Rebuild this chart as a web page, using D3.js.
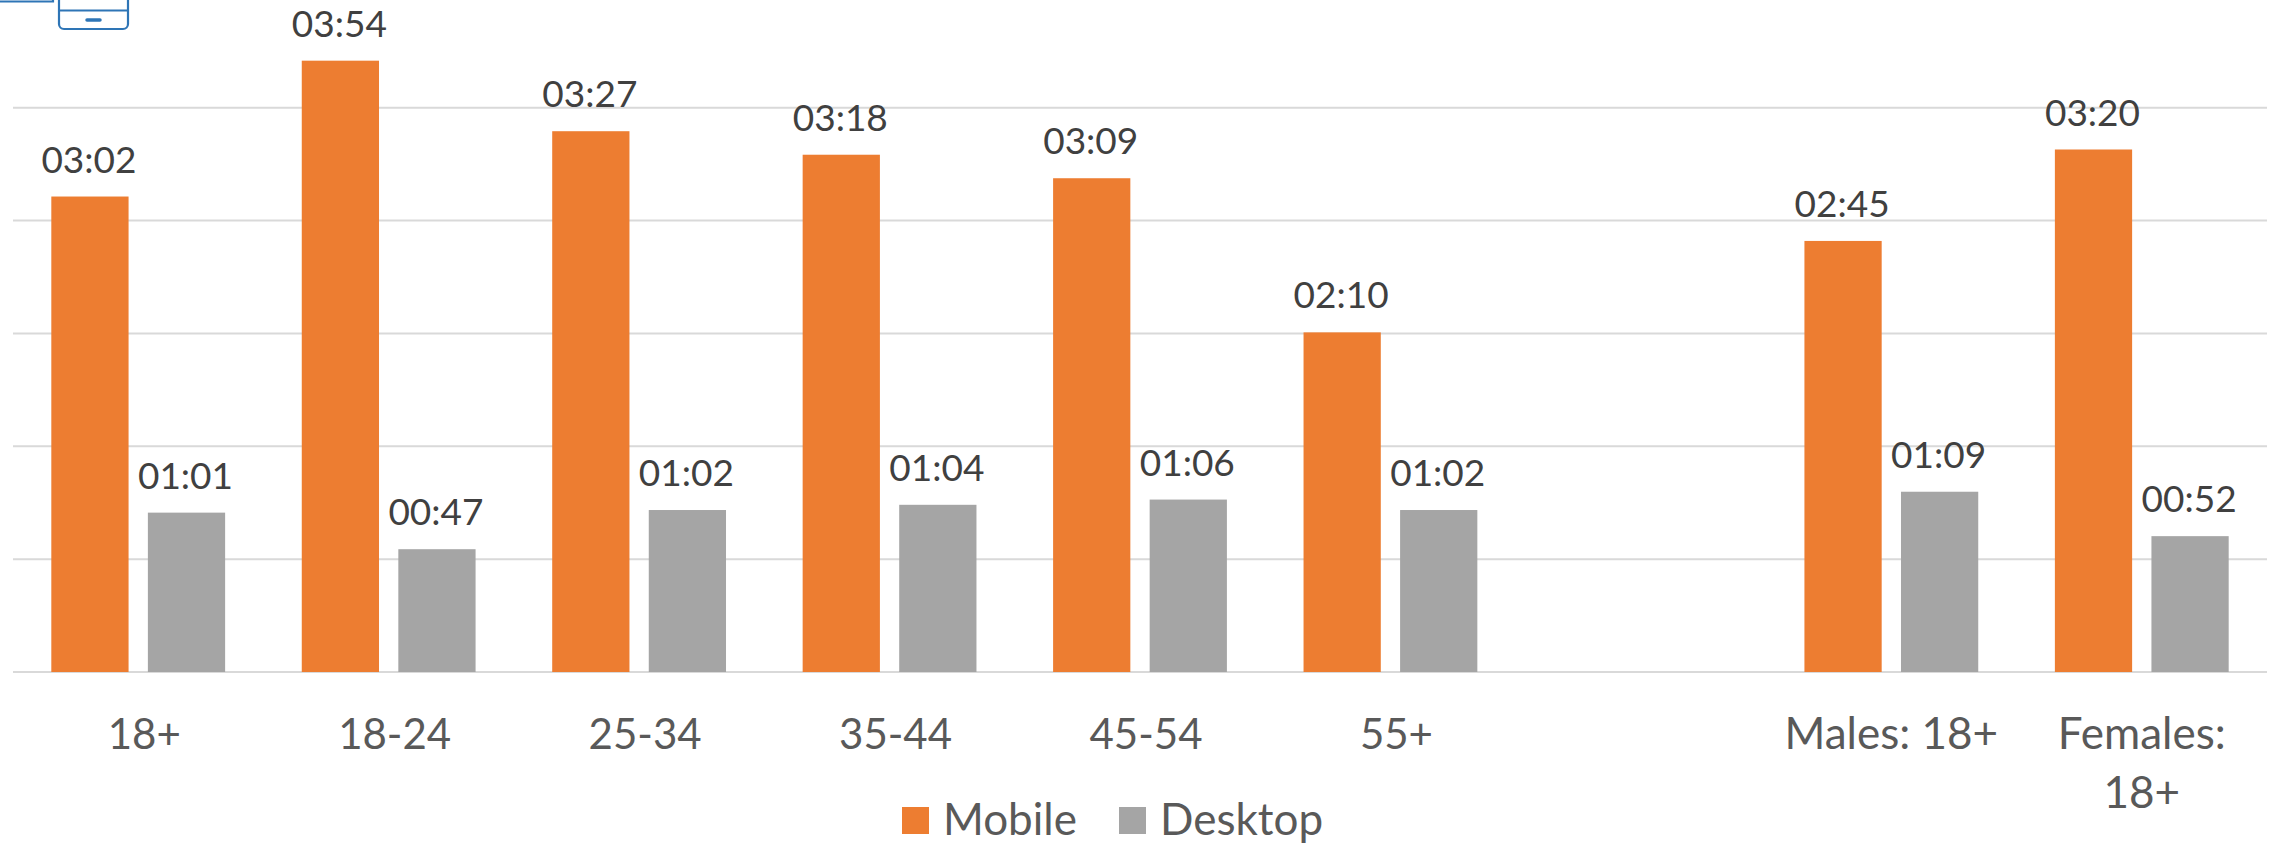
<!DOCTYPE html>
<html>
<head>
<meta charset="utf-8">
<script src="https://cdnjs.cloudflare.com/ajax/libs/d3/7.8.5/d3.min.js"></script>
<style>
  html, body { margin: 0; padding: 0; background: #fff; overflow: hidden; }
  text { font-family: Lato, "Open Sans", sans-serif; }
</style>
</head>
<body>
<script>
// slots on the x axis, the empty one makes the gap before the gender groups
const categories = ["18+", "18-24", "25-34", "35-44", "45-54", "55+", "", "Males: 18+", "Females: 18+"];
const seriesNames = ["Mobile", "Desktop"];
const seriesColors = ["#ED7D31", "#A5A5A5"];
// minutes:seconds per day
const mobile = ["03:02", "03:54", "03:27", "03:18", "03:09", "02:10", null, "02:45", "03:20"];
const desktop = ["01:01", "00:47", "01:02", "01:04", "01:06", "01:02", null, "01:09", "00:52"];
// gridlines sit every 0.0005 of a day = 43.2 seconds
const gridTicks = [0, 43.2, 86.4, 129.6, 172.8, 216];

const width = 2277, height = 844;
const margin = { top: 45, right: 10, bottom: 172, left: 13 };

const toSeconds = s => { const p = s.split(":"); return +p[0] * 60 + +p[1]; };

const svg = d3.select("body").append("svg")
    .attr("width", width)
    .attr("height", height);

const x = d3.scaleBand()
    .domain(d3.range(categories.length))
    .range([margin.left, width - margin.right])
    .paddingInner(0.306)
    .paddingOuter(0.153);

const xInner = d3.scaleBand()
    .domain(seriesNames)
    .range([0, x.bandwidth()])
    .paddingInner(0.2);

const y = d3.scaleLinear()
    .domain([0, 240])
    .range([height - margin.bottom, margin.top]);

// gridlines
svg.append("g")
    .selectAll("line")
    .data(gridTicks)
    .join("line")
    .attr("x1", margin.left)
    .attr("x2", width - margin.right)
    .attr("y1", d => y(d))
    .attr("y2", d => y(d))
    .attr("stroke", "#D9D9D9")
    .attr("stroke-width", 2);

// bars and value labels
[mobile, desktop].forEach(function(values, s) {
    const name = seriesNames[s];
    const g = svg.append("g");
    const rows = values.map((v, i) => ({ v: v, i: i })).filter(d => d.v !== null);

    g.selectAll("rect")
        .data(rows)
        .join("rect")
        .attr("x", d => x(d.i) + xInner(name))
        .attr("y", d => y(toSeconds(d.v)))
        .attr("width", xInner.bandwidth())
        .attr("height", d => y(0) - y(toSeconds(d.v)))
        .attr("fill", seriesColors[s]);

    g.selectAll("text")
        .data(rows)
        .join("text")
        .attr("x", d => x(d.i) + xInner(name) + xInner.bandwidth() / 2 - 1)
        .attr("y", d => y(toSeconds(d.v)) - 24)
        .attr("text-anchor", "middle")
        .attr("font-size", 37)
        .attr("fill", "#404040")
        .text(d => d.v);
});

// category labels, the last one is wrapped like the original
// age labels sit a little right of the slot centre in the original
const xLabels = svg.append("g")
    .selectAll("text")
    .data(categories.map((c, i) => ({ c: c, i: i })).filter(d => d.c !== ""))
    .join("text")
    .attr("y", 749)
    .attr("text-anchor", "middle")
    .attr("font-size", d => d.i < 6 ? 42 : 44)
    .attr("fill", "#595959");

xLabels.each(function(d) {
    const lines = d.c === "Females: 18+" ? ["Females:", "18+"] : [d.c];
    d3.select(this).selectAll("tspan")
        .data(lines)
        .join("tspan")
        .attr("x", x(d.i) + x.bandwidth() / 2 + (d.i < 6 ? 6 : 0))
        .attr("dy", (l, j) => j ? 59 : 0)
        .text(l => l);
});

// legend
const legendX = d3.scaleOrdinal().domain(seriesNames).range([902, 1119]);
const legend = svg.append("g")
    .selectAll("g")
    .data(seriesNames)
    .join("g")
    .attr("transform", d => `translate(${legendX(d)},807)`);
legend.append("rect")
    .attr("width", 27)
    .attr("height", 27)
    .attr("fill", (d, i) => seriesColors[i]);
legend.append("text")
    .attr("x", 41)
    .attr("y", 28)
    .attr("font-size", 44)
    .attr("fill", "#595959")
    .text(d => d);

// device icons cut off by the top edge
const icon = svg.append("g")
    .attr("fill", "none")
    .attr("stroke", "#2E75B6")
    .attr("stroke-width", 2.2);
icon.append("path").attr("d", "M0,1.5H53V-8");
icon.append("path").attr("d", "M59,-8V24a5,5 0 0 0 5,5H123a5,5 0 0 0 5,-5V-8");
icon.append("path").attr("d", "M59,10.5H128");
icon.append("path").attr("d", "M87,20H100").attr("stroke-width", 3.5).attr("stroke-linecap", "round");
</script>
</body>
</html>
